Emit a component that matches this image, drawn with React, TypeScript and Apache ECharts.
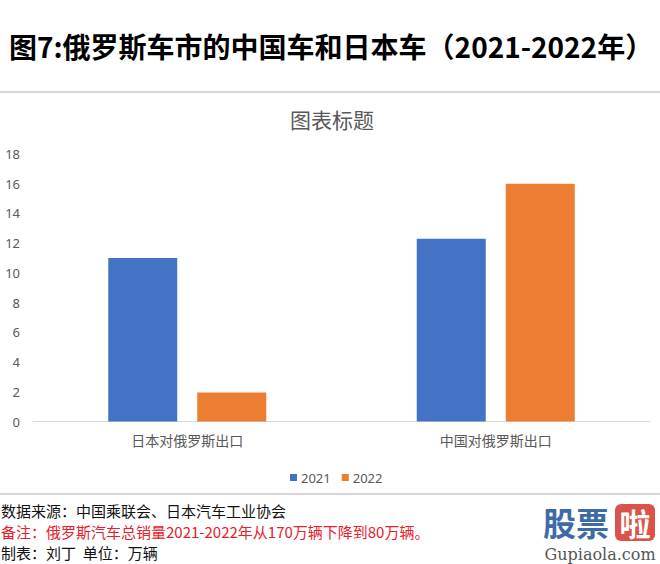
import React, { useEffect, useRef } from "react";
import * as echarts from "echarts";

const categories = ["日本对俄罗斯出口", "中国对俄罗斯出口"];
const seriesNames = ["2021", "2022"];
const values2021 = [11, 12.3];
const values2022 = [1.95, 16];
const yTicks = { min: 0, max: 18, interval: 2 };

const mainTitle = "图7:俄罗斯车市的中国车和日本车（2021-2022年）";
const chartTitle = "图表标题";
const footerSource = "数据来源：中国乘联会、日本汽车工业协会";
const footerNote = "备注：俄罗斯汽车总销量2021-2022年从170万辆下降到80万辆。";
const footerMaker = "制表：刘丁  单位：万辆";

const CJK = '"Noto Sans CJK SC", "Noto Sans", sans-serif';

export default function App() {
  const ref = useRef<HTMLDivElement>(null);
  useEffect(() => {
    document.body.style.margin = "0";
    const chart = echarts.init(ref.current!, null, { renderer: "svg" });
    chart.setOption({
      animation: false,
      backgroundColor: "#ffffff",
      color: ["#4472C4", "#ED7D31"],
      legend: {
        data: seriesNames,
        left: 285,
        top: 466,
        itemWidth: 7,
        itemHeight: 7,
        itemGap: 11,
        icon: "rect",
        textStyle: { color: "#595959", fontSize: 13, fontFamily: "Noto Sans", padding: [0, 0, 0, -1] },
      },
      grid: { left: 33, right: 10, top: 154, bottom: 142.5, containLabel: false },
      xAxis: {
        type: "category",
        data: categories,
        axisLine: { lineStyle: { color: "#d9d9d9", width: 1 } },
        axisTick: { show: false },
        axisLabel: { color: "#595959", fontSize: 14, fontFamily: CJK, margin: 11 },
      },
      yAxis: {
        type: "value",
        min: yTicks.min,
        max: yTicks.max,
        interval: yTicks.interval,
        axisLine: { show: false },
        axisTick: { show: false },
        splitLine: { show: false },
        axisLabel: { color: "#595959", fontSize: 13, fontFamily: "Noto Sans", margin: 13 },
      },
      series: [
        { name: seriesNames[0], type: "bar", data: values2021, barWidth: 69, barGap: "29%" },
        { name: seriesNames[1], type: "bar", data: values2022, barWidth: 69, barGap: "29%" },
      ],
      graphic: [
        {
          type: "text",
          x: 9,
          y: 46,
          style: { text: mainTitle, fill: "#000", font: `bold 28px ${CJK}`, verticalAlign: "middle" },
        },
        { type: "rect", shape: { x: 0, y: 91, width: 660, height: 2 }, style: { fill: "#d6d6d6" } },
        {
          type: "text",
          x: 332,
          y: 119,
          style: { text: chartTitle, fill: "#595959", font: `21px ${CJK}`, align: "center", verticalAlign: "middle" },
        },
        { type: "rect", shape: { x: 0, y: 493, width: 660, height: 2 }, style: { fill: "#d6d6d6" } },
        {
          type: "text",
          x: 1,
          y: 510,
          style: { text: footerSource, fill: "#111", font: `15px ${CJK}`, verticalAlign: "middle" },
        },
        {
          type: "text",
          x: 1,
          y: 531,
          style: { text: footerNote, fill: "#e8202a", font: `15px ${CJK}`, verticalAlign: "middle" },
        },
        {
          type: "text",
          x: 1,
          y: 552,
          style: { text: footerMaker, fill: "#111", font: `15px ${CJK}`, verticalAlign: "middle" },
        },
        {
          type: "text",
          x: 543,
          y: 522,
          style: { text: "股票", fill: "#3f6aa8", font: `bold 33px ${CJK}`, lineHeight: 33, verticalAlign: "middle" },
        },
        {
          type: "rect",
          shape: { x: 615, y: 504, width: 40, height: 37, r: 6 },
          style: { fill: "#d9534a" },
        },
        {
          type: "text",
          x: 635,
          y: 522,
          style: { text: "啦", fill: "#ffffff", font: `bold 31px ${CJK}`, lineHeight: 31, align: "center", verticalAlign: "middle" },
        },
        {
          type: "text",
          x: 600,
          y: 554,
          style: { text: "Gupiaola.com", fill: "#555", font: `16px "DejaVu Serif", serif`, lineHeight: 16, align: "center", verticalAlign: "middle" },
        },
      ],
    });
    return () => chart.dispose();
  }, []);
  return <div ref={ref} style={{ width: 660, height: 564 }} />;
}
